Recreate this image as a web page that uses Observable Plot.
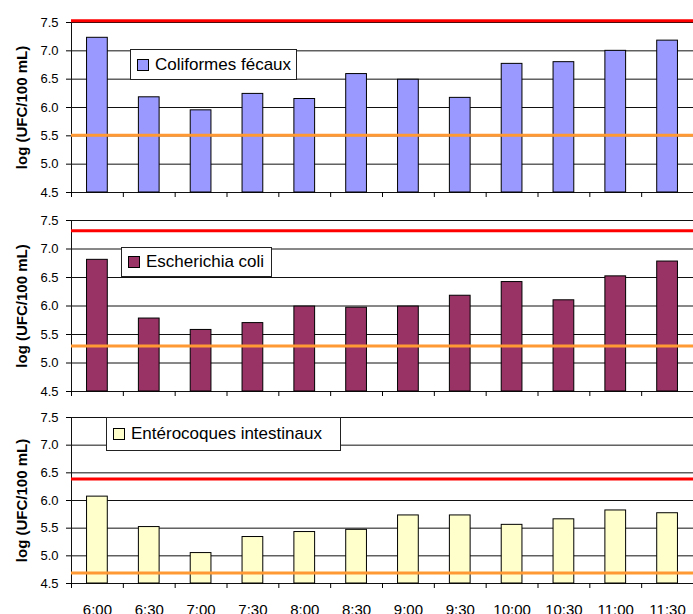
<!DOCTYPE html>
<html><head><meta charset="utf-8">
<script src="https://cdn.jsdelivr.net/npm/d3@7"></script>
<script src="https://cdn.jsdelivr.net/npm/@observablehq/plot@0.6"></script>
<style>
body{margin:0;background:#fff;font-family:Arial,"Liberation Sans",sans-serif;}
#chart{position:relative;width:693px;height:614px;overflow:hidden;}
#chart svg{display:block;}
.legend{position:absolute;background:#fff;border:1px solid #222;display:flex;align-items:center;font-size:17px;color:#000;box-sizing:border-box;white-space:nowrap;}
.sw{width:10px;height:10px;border:1px solid #000;margin:0 6px 0 6px;flex:none;}
</style></head><body><div id="chart"></div>
<script>
const times = ["6:00","6:30","7:00","7:30","8:00","8:30","9:00","9:30","10:00","10:30","11:00","11:30"];
const coliformes = [7.23, 6.18, 5.95, 6.24, 6.15, 6.59, 6.49, 6.17, 6.77, 6.80, 7.00, 7.18];
const ecoli = [6.81, 5.78, 5.58, 5.70, 5.99, 5.97, 5.99, 6.18, 6.42, 6.10, 6.52, 6.78];
const enterocoques = [6.07, 5.52, 5.05, 5.34, 5.43, 5.47, 5.73, 5.73, 5.56, 5.66, 5.82, 5.77];
const seriesNames = ["Coliformes fécaux", "Escherichia coli", "Entérocoques intestinaux"];
const seriesColors = ["#9999FF", "#993366", "#FFFFCC"];
const redLimits = [7.53, 7.32, 6.39];
const orangeLimits = [5.51, 5.30, 4.69];
const yTicks = [4.5, 5.0, 5.5, 6.0, 6.5, 7.0, 7.5];
const yLabel = "log (UFC/100 mL)";

const seriesValues = [coliformes, ecoli, enterocoques];
const layouts = [
  {top: 0, height: 200, mt: 22, mb: 8, legend: {left: 130, top: 49, width: 167, height: 31}},
  {top: 200, height: 198, mt: 20, mb: 7, legend: {left: 121, top: 247, width: 151, height: 30}},
  {top: 398, height: 216, mt: 19, mb: 31, legend: {left: 106, top: 417, width: 235, height: 34}}
];
const chart = document.getElementById("chart");

seriesValues.forEach((vals, k) => {
  const L = layouts[k];
  const data = vals.map((v, i) => ({t: times[i], i, v}));
  const marks = [
    Plot.ruleY(yTicks, {stroke: "#111", strokeWidth: 1}),
    Plot.ruleX([0], {y1: yTicks[0], y2: yTicks[yTicks.length - 1], stroke: "#111"}),
    Plot.rect(data, {x1: d => d.i + 0.3, x2: d => d.i + 0.7, y1: yTicks[0], y2: "v", fill: seriesColors[k], stroke: "#000", strokeWidth: 1}),
    Plot.ruleY([orangeLimits[k]], {stroke: "#FF9933", strokeWidth: 3}),
    Plot.ruleY([redLimits[k]], {stroke: "#FF0000", strokeWidth: 3}),
    Plot.axisY(yTicks, {tickSize: 5, tickPadding: 8, tickFormat: d3.format(".1f"), label: null, fontSize: 13}),
    Plot.axisX(d3.range(times.length + 1), {tickSize: 5, tickFormat: () => "", label: null}),
    Plot.text([yLabel], {frameAnchor: "left", textAnchor: "middle", rotate: -90, dx: -49, fontWeight: "bold", fontSize: 15, text: d => d})
  ];
  if (k === 2) {
    marks.push(Plot.axisX(times.map((d, i) => i + 0.5), {tickSize: 0, tickPadding: 21, tickFormat: v => times[Math.floor(v)], label: null, fontSize: 15}));
  }
  const p = Plot.plot({
    width: 693, height: L.height,
    marginLeft: 71, marginRight: 0, marginTop: L.mt, marginBottom: L.mb,
    x: {type: "linear", domain: [0, times.length]},
    y: {domain: [yTicks[0], yTicks[yTicks.length - 1]]},
    style: {fontFamily: "Arial, 'Liberation Sans', sans-serif", fontSize: "13px", color: "#000", background: "transparent", overflow: "visible"},
    marks
  });
  p.style.position = "absolute";
  p.style.left = "0px";
  p.style.top = L.top + "px";
  chart.appendChild(p);

  const lg = document.createElement("div");
  lg.className = "legend";
  Object.assign(lg.style, {left: L.legend.left + "px", top: L.legend.top + "px", width: L.legend.width + "px", height: L.legend.height + "px"});
  const sw = document.createElement("span");
  sw.className = "sw";
  sw.style.background = seriesColors[k];
  lg.appendChild(sw);
  const tx = document.createElement("span");
  tx.textContent = seriesNames[k];
  lg.appendChild(tx);
  chart.appendChild(lg);
});
</script></body></html>
